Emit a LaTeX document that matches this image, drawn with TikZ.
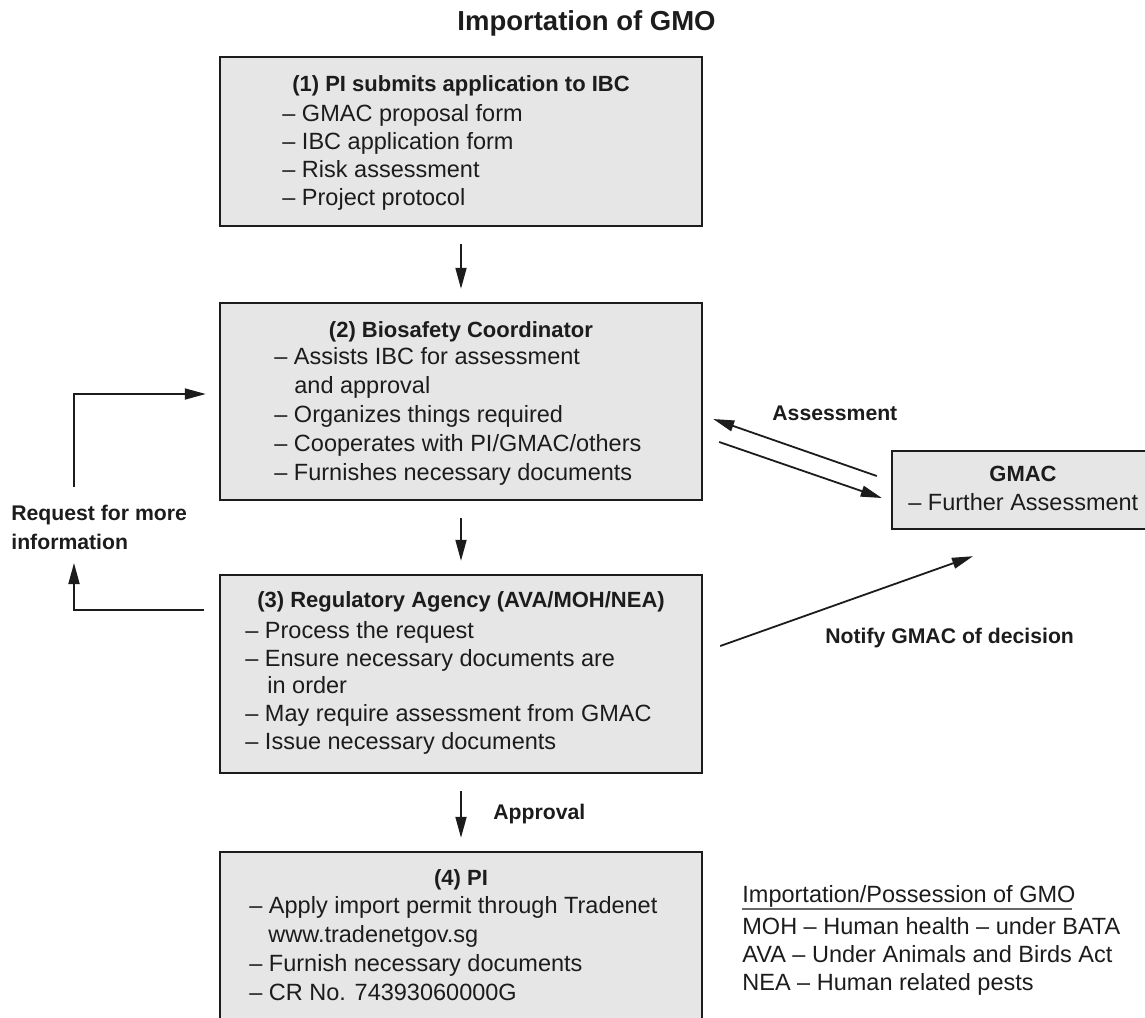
\documentclass[tikz,border=0pt]{standalone}
\usepackage{fontspec}
\setmainfont{Liberation Sans}
\usetikzlibrary{arrows.meta}
\definecolor{boxgray}{HTML}{E6E6E6}
\definecolor{ink}{HTML}{1C1C1C}
\begin{document}
\begin{tikzpicture}[x=0.5pt,y=-0.5pt,color=ink,
  stage/.style={draw=ink,fill=boxgray,line width=1.2pt,inner sep=0pt,minimum width=241pt},
  head/.style={inner sep=0pt,anchor=base,font=\bfseries\fontsize{11}{13}\selectfont},
  item/.style={inner sep=0pt,anchor=base west,font=\fontsize{11.75}{14}\selectfont},
  lbl/.style={inner sep=0pt,anchor=base west,font=\bfseries\fontsize{10.6}{13}\selectfont},
  arr/.style={-{Triangle[length=10.5pt,width=5.5pt]},line width=0.9pt,shorten <=8.5pt,shorten >=6.5pt}]
\useasboundingbox (0,0) rectangle (1145,1017);
\node[inner sep=0pt,anchor=base west,font=\bfseries\fontsize{13.75}{16}\selectfont] (title) at (457,31) {Importation of GMO};
% the four stages
\node[stage,minimum height=84.5pt] (pi) at (461,141.5) {};
\node[stage,minimum height=98.5pt] (bio) at (461,401.5) {};
\node[stage,minimum height=99pt] (reg) at (461,674) {};
\node[stage,minimum height=85pt] (imp) at (461,937) {};
\node[stage,minimum width=130pt,minimum height=39pt] (gmac) at (1022,490) {};
\node[head] (pihd) at (461,91) {(1) PI submits application to IBC};
\foreach \x/\y/\t in {282/121/{– GMAC proposal form},282/149/{– IBC application form},
  282/177/{– Risk assessment},282/205/{– Project protocol}}
  \node[item] at (\x,\y) {\t};
\node[head] (biohd) at (461,337) {(2) Biosafety Coordinator};
\foreach \x/\y/\t in {274/364/{– Assists IBC for assessment},294/393/{and approval},
  274/422/{– Organizes things required},274/451/{– Cooperates with PI/GMAC/others},
  274/480/{– Furnishes necessary documents}}
  \node[item] at (\x,\y) {\t};
\node[head] (reghd) at (461,607) {(3) Regulatory Agency (AVA/MOH/NEA)};
\foreach \x/\y/\t in {245/638/{– Process the request},245/666/{– Ensure necessary documents are},
  267/693/{in order},245/721/{– May require assessment from GMAC},245/749/{– Issue necessary documents}}
  \node[item] at (\x,\y) {\t};
\node[head] (imphd) at (461,885) {(4) PI};
\foreach \x/\y/\t in {249/913/{– Apply import permit through Tradenet},268/942/{www.tradenetgov.sg},
  249/971/{– Furnish necessary documents},249/1000/{– CR No. 74393060000G}}
  \node[item] at (\x,\y) {\t};
\node[head] (gmachd) at (1023,481) {GMAC};
\node[item] (gmacit) at (908,510) {– Further Assessment};
% main flow
\draw[arr] (pi.south) -- (bio.north);
\draw[arr] (bio.south) -- (reg.north);
\draw[arr] (reg.south) -- (imp.north);
\node[lbl] (appr) at (493,819) {Approval};
% GMAC exchange
\draw[arr,shorten <=0pt,shorten >=0pt] ([shift={(-14,-14)}]gmac.west) -- ([shift={(10,17.5)}]bio.east);
\draw[arr,shorten <=0pt,shorten >=0pt] ([shift={(16,40.5)}]bio.east) -- ([shift={(-9,8)}]gmac.west);
\node[lbl] (asmt) at (772,420) {Assessment};
\draw[arr,shorten <=0pt,shorten >=0pt] ([shift={(17,-28)}]reg.east) -- ([shift={(-49,26)}]gmac.south);
\node[lbl] (notify) at (825,643) {Notify GMAC of decision};
% request loop
\node[lbl] (req) at (11,520) {Request for more};
\node[lbl] (req2) at (11,549) {information};
\coordinate (reqbot) at (74,563); \coordinate (reqtop) at (74,487);
\draw[arr,shorten >=0pt,shorten <=7.5pt] ([yshift=32pt]reg.west) -| (reqbot);
\draw[arr,shorten <=0pt,shorten >=6.5pt] (reqtop) |- ([yshift=3.75pt]bio.west);
% legend
\node[item] (lghd) at (742,902) {Importation/Possession of GMO};
\draw[line width=0.6pt,black!60] (lghd.base west) ++(0,7) -- ++(330,0);
\node[item] (lg1) at (742,934) {MOH – Human health – under BATA};
\node[item] (lg2) at (742,962) {AVA – Under Animals and Birds Act};
\node[item] (lg3) at (742,990) {NEA – Human related pests};
\end{tikzpicture}
\end{document}
